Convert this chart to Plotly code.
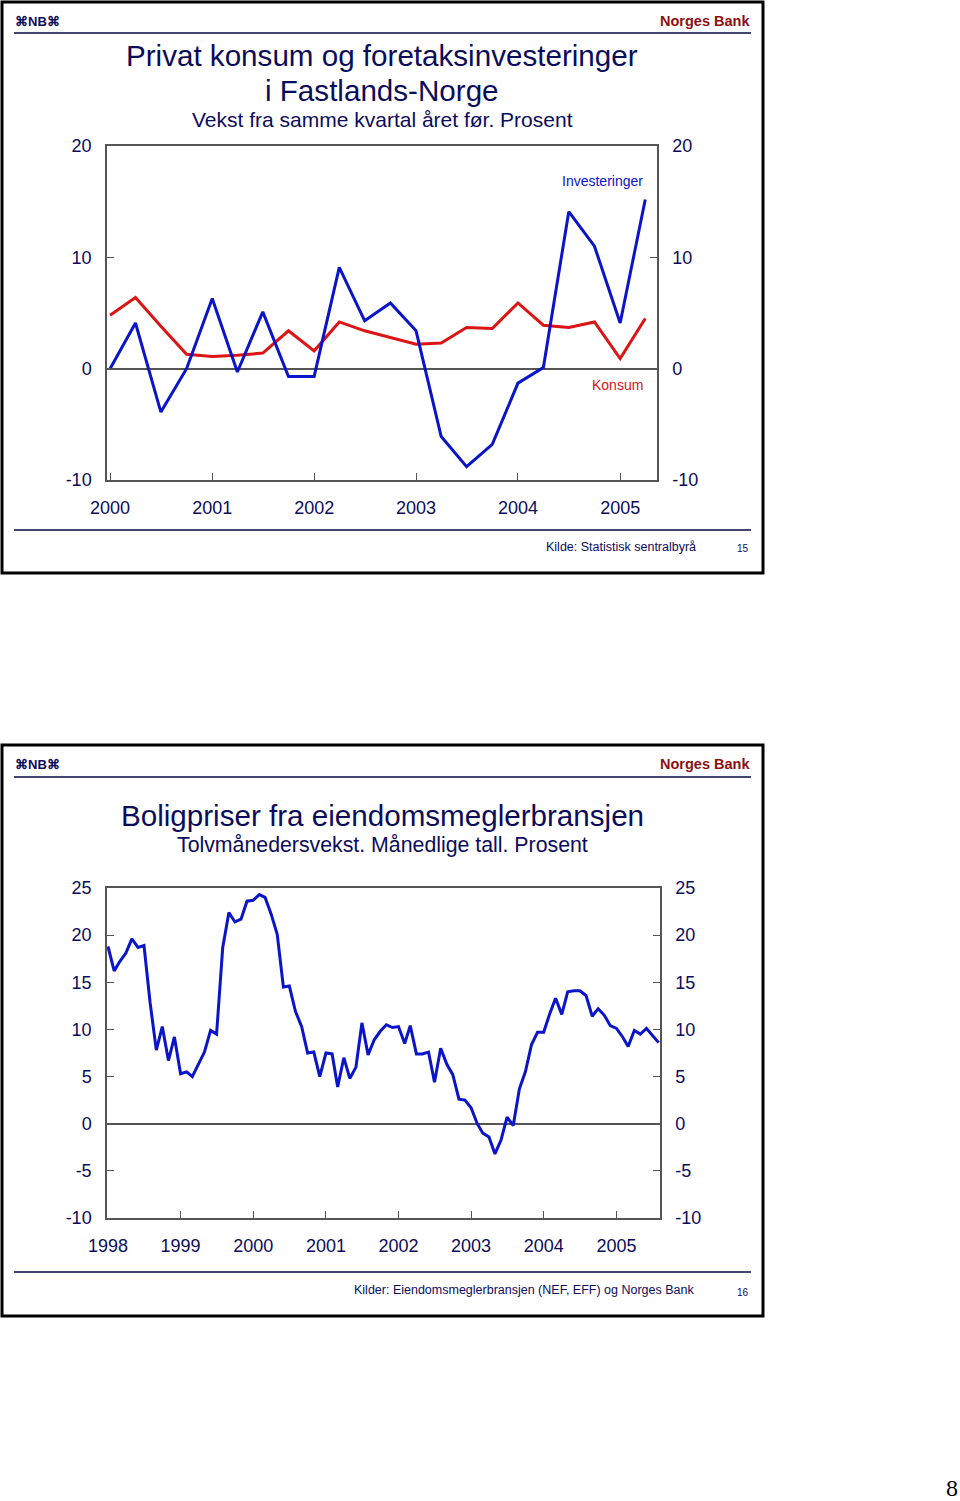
import pandas as pd
import plotly.graph_objects as go

W, H = 960, 1501

# ---------------- Data: chart 1 (quarterly, 2000Q1-2005Q2) ----------------
quarters = pd.date_range("2000-01-01", periods=22, freq="QS").strftime("%Y-%m-%d").tolist()
investeringer = [0.0, 4.1, -3.9, 0.0, 6.3, -0.3, 5.1, -0.7, -0.7, 9.1, 4.3, 5.9,
                 3.4, -6.1, -8.8, -6.8, -1.3, 0.1, 14.1, 11.0, 4.1, 15.2]
konsum = [4.8, 6.4, 3.8, 1.3, 1.1, 1.2, 1.4, 3.4, 1.6, 4.2, 3.4, 2.8,
          2.2, 2.3, 3.7, 3.6, 5.9, 3.9, 3.7, 4.2, 0.9, 4.5]
years1 = ["2000", "2001", "2002", "2003", "2004", "2005"]
yvals1 = [-10, 0, 10, 20]
ylabels1 = ["-10", "0", "10", "20"]

# ---------------- Data: chart 2 (monthly, Jan 1998 - Aug 2005) ----------------
months = pd.date_range("1998-01-01", periods=92, freq="MS").strftime("%Y-%m-%d").tolist()
boligpriser = [18.8, 16.2, 17.2, 18.1, 19.6, 18.7, 18.9, 12.8, 7.8, 10.3, 6.7, 9.2,
               5.3, 5.5, 5.0, 6.4, 7.6, 9.9, 9.5, 18.7, 22.4, 21.4, 21.7, 23.6,
               23.7, 24.3, 24.0, 22.2, 20.1, 14.5, 14.6, 11.9, 10.3, 7.5, 7.6, 5.0,
               7.5, 7.4, 3.9, 7.0, 4.8, 6.0, 10.7, 7.3, 8.9, 9.8, 10.5, 10.2,
               10.3, 8.5, 10.4, 7.4, 7.4, 7.6, 4.4, 8.0, 6.3, 5.2, 2.6, 2.5,
               1.7, 0.0, -1.0, -1.4, -3.2, -1.7, 0.7, -0.2, 3.7, 5.5, 8.4, 9.7,
               9.7, 11.7, 13.3, 11.6, 14.0, 14.1, 14.1, 13.6, 11.4, 12.2, 11.5, 10.4,
               10.1, 9.2, 8.2, 9.9, 9.5, 10.1, 9.4, 8.6]
years2 = ["1998", "1999", "2000", "2001", "2002", "2003", "2004", "2005"]
yvals2 = [-10, -5, 0, 5, 10, 15, 20, 25]
ylabels2 = ["-10", "-5", "0", "5", "10", "15", "20", "25"]

# ---------------- Styling ----------------
NAVY = "#0c0c5c"
AXC = "#555555"
BLUE = "#0a14c8"
RED = "#dc1414"
DARKRED = "#8b1010"
FONT = "Liberation Sans, Arial, sans-serif"


def px(x):
    return x / W


def py(y):
    return 1 - y / H


fig = go.Figure()

fig.add_trace(go.Scatter(x=quarters, y=konsum, mode="lines", name="Konsum",
                         line=dict(color=RED, width=3), xaxis="x", yaxis="y"))
fig.add_trace(go.Scatter(x=quarters, y=investeringer, mode="lines", name="Investeringer",
                         line=dict(color=BLUE, width=3), xaxis="x", yaxis="y"))
fig.add_trace(go.Scatter(x=months, y=boligpriser, mode="lines", name="Boligpriser",
                         line=dict(color=BLUE, width=3), xaxis="x2", yaxis="y3"))

tickfont = dict(family=FONT, size=18, color=NAVY)

common_x = dict(showgrid=False, zeroline=False, showline=True, linecolor=AXC, linewidth=1.5,
                mirror=True, ticks="inside", ticklen=7, tickcolor=AXC, tickwidth=1,
                tickfont=tickfont, ticklabelstandoff=11, automargin=False)
common_y = dict(showgrid=False, showline=True, linecolor=AXC, linewidth=1.5,
                ticks="inside", ticklen=7, tickcolor=AXC, tickwidth=1,
                tickfont=tickfont, ticklabelstandoff=10, automargin=False)

fig.update_layout(
    template="none",
    width=W, height=H, margin=dict(l=0, r=0, t=0, b=0, pad=0, autoexpand=False),
    paper_bgcolor="white", plot_bgcolor="white", showlegend=False,
    font=dict(family=FONT, color=NAVY),
    xaxis=dict(domain=[px(107), px(657)], anchor="y", type="date",
               range=["1999-12-21", "2005-05-13"],
               tickvals=[f"{y}-01-01" for y in years1], ticktext=years1, **common_x),
    yaxis=dict(domain=[py(480), py(146)], anchor="x", range=[-10, 20],
               tickvals=yvals1, ticktext=ylabels1, side="left",
               zeroline=True, zerolinecolor=AXC, zerolinewidth=1.5, **common_y),
    yaxis2=dict(overlaying="y", anchor="x", side="right", range=[-10, 20],
                tickvals=yvals1, ticktext=ylabels1, zeroline=False, **common_y),
    xaxis2=dict(domain=[px(107), px(660)], anchor="y3", type="date",
                range=["1997-12-27", "2005-08-08"],
                tickvals=[f"{y}-01-01" for y in years2], ticktext=years2, **common_x),
    yaxis3=dict(domain=[py(1218), py(888)], anchor="x2", range=[-10, 25],
                tickvals=yvals2, ticktext=ylabels2, side="left",
                zeroline=True, zerolinecolor=AXC, zerolinewidth=1.5, **common_y),
    yaxis4=dict(overlaying="y3", anchor="x2", side="right", range=[-10, 25],
                tickvals=yvals2, ticktext=ylabels2, zeroline=False, **common_y),
)

# dummy traces to activate right axes
fig.add_trace(go.Scatter(x=[quarters[0]], y=[None], xaxis="x", yaxis="y2", showlegend=False))
fig.add_trace(go.Scatter(x=[months[0]], y=[None], xaxis="x2", yaxis="y4", showlegend=False))

shapes = []
annotations = []


def rect(x0, y0, x1, y1, color="black", width=3):
    shapes.append(dict(type="rect", xref="paper", yref="paper",
                       x0=px(x0), x1=px(x1), y0=py(y1), y1=py(y0),
                       line=dict(color=color, width=width), fillcolor="rgba(0,0,0,0)"))


def hline(x0, x1, y, color="#44446e", width=2):
    shapes.append(dict(type="line", xref="paper", yref="paper",
                       x0=px(x0), x1=px(x1), y0=py(y), y1=py(y),
                       line=dict(color=color, width=width)))


def text(x, y, s, size, color=NAVY, xanchor="center", family=FONT, bold=False):
    if bold:
        s = f"<b>{s}</b>"
    annotations.append(dict(xref="paper", yref="paper", x=px(x), y=py(y), text=s,
                            showarrow=False, xanchor=xanchor, yanchor="middle",
                            font=dict(family=family, size=size, color=color)))


# ---- slide 1 ----
rect(2, 2, 763, 573)
hline(14, 751, 33)
hline(14, 751, 530)
text(13, 21, "⌘NB⌘", 13, NAVY, "left", bold=True)
text(752, 21, "Norges Bank", 14.5, DARKRED, "right", bold=True)
text(382, 55, "Privat konsum og foretaksinvesteringer", 29.6)
text(382, 90, "i Fastlands-Norge", 29.6)
text(382, 120, "Vekst fra samme kvartal året før. Prosent", 21)
text(645, 181, "Investeringer", 14, BLUE, "right")
text(645, 385, "Konsum", 14, RED, "right")
text(698, 547, "Kilde: Statistisk sentralbyrå", 12.5, NAVY, "right")
text(743, 548, "15", 10, NAVY)

# ---- slide 2 ----
rect(2, 745, 763, 1316)
hline(14, 751, 777)
hline(14, 751, 1272)
text(13, 764, "⌘NB⌘", 13, NAVY, "left", bold=True)
text(752, 764, "Norges Bank", 14.5, DARKRED, "right", bold=True)
text(382, 815, "Boligpriser fra eiendomsmeglerbransjen", 29.6)
text(382, 845, "Tolvmånedersvekst. Månedlige tall. Prosent", 21.3)
text(696, 1290, "Kilder: Eiendomsmeglerbransjen (NEF, EFF) og Norges Bank", 12.5, NAVY, "right")
text(743, 1292, "16", 10, NAVY)

# page number
text(952, 1488, "8", 24, "black", family="Liberation Serif, serif")

fig.update_layout(shapes=shapes, annotations=annotations)

fig.write_html("out.html", config={"displayModeBar": False},
               post_script="document.body.style.margin='0px';")
